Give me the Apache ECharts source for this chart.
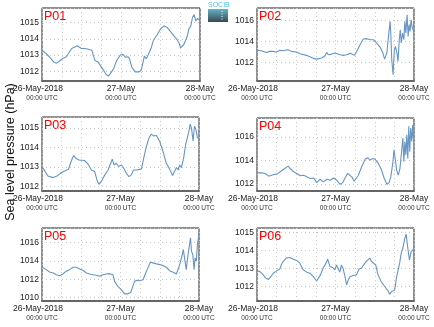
<!DOCTYPE html>
<html><head><meta charset="utf-8">
<script src="https://cdn.jsdelivr.net/npm/echarts@6/dist/echarts.min.js"></script>
<style>html,body{margin:0;padding:0;background:#fff}#c{width:434px;height:327px}</style>
</head><body><div id="c"></div>
<script>
// ---- data (hours since 26-May-2018 00:00 UTC, sea level pressure hPa) ----
const panelNames = ['P01','P02','P03','P04','P05','P06'];
const xTickHours = [0, 24, 48];
const xTickDates = ['26-May-2018', '27-May', '28-May'];
const xTickTimes = ['00:00 UTC', '00:00 UTC', '00:00 UTC'];
const yLabel = 'Sea level pressure (hPa)';

const p01 = [[0,1013.3],[1.3,1013.08],[2.3,1012.87],[3.7,1012.55],[4.4,1012.5],[5.4,1012.65],[6.4,1012.8],[7.4,1012.9],[8.0,1013.08],[9.0,1013.4],[10.0,1013.5],[10.7,1013.57],[12.0,1013.4],[13.0,1013.4],[14.1,1013.36],[15.1,1013.3],[16.1,1012.66],[17.1,1012.55],[18.1,1012.24],[19.5,1011.8],[20.2,1011.7],[20.7,1011.75],[21.7,1012.13],[22.7,1012.66],[23.8,1013.0],[24.6,1013.05],[25.3,1012.87],[26.1,1012.9],[26.6,1012.77],[27.3,1012.24],[28.3,1011.96],[29.4,1011.96],[30.1,1012.05],[30.7,1012.55],[31.1,1012.93],[31.7,1012.77],[32.2,1012.98],[33.1,1013.4],[33.9,1013.93],[35.0,1014.25],[36.0,1014.6],[37.0,1014.8],[38.0,1014.7],[39.0,1014.46],[40.1,1014.18],[41.1,1013.93],[41.6,1013.76],[42.1,1013.44],[42.6,1013.4],[43.1,1013.65],[43.6,1013.76],[44.1,1014.14],[44.6,1014.6],[45.2,1014.78],[45.7,1015.3],[46.2,1015.5],[46.7,1015.1],[47.2,1015.25],[48,1015.15]];
const p02 = [[0,1013.14],[1.3,1013.1],[2.9,1012.94],[3.4,1012.88],[3.9,1013.04],[4.9,1013.04],[5.9,1012.98],[7.0,1013.14],[8.0,1013.1],[8.5,1013.26],[9.5,1013.2],[10.5,1013.04],[12.1,1012.98],[13.1,1012.82],[15.1,1012.66],[17.2,1012.37],[18.2,1012.3],[19.8,1012.4],[20.8,1012.62],[21.3,1012.94],[21.8,1012.72],[22.8,1012.78],[23.8,1012.88],[24.4,1013.04],[25.4,1012.72],[26.4,1012.66],[27.4,1012.72],[28.5,1012.85],[29.0,1012.7],[29.8,1012.66],[30.5,1013.04],[31.5,1013.68],[32.5,1014.22],[33.6,1014.26],[34.6,1014.16],[35.6,1014.16],[36.6,1013.84],[37.7,1013.42],[38.5,1012.88],[39.0,1012.3],[39.4,1012.24],[39.7,1012.88],[40.2,1014.48],[40.7,1015.92],[40.9,1014.8],[41.2,1012.24],[41.6,1010.8],[42.0,1013.2],[42.3,1013.52],[42.8,1012.88],[43.1,1012.08],[43.5,1014.16],[43.8,1015.12],[44.1,1013.84],[44.5,1014.8],[44.9,1014.16],[45.2,1015.92],[45.5,1014.8],[45.9,1016.56],[46.2,1014.48],[46.5,1015.6],[46.8,1014.96],[47.1,1016.08],[47.4,1015.44],[47.7,1015.12],[48.0,1014.96]];
const p03 = [[0,1013.02],[0.8,1012.81],[1.8,1012.53],[3.4,1012.45],[4.6,1012.53],[5.6,1012.67],[6.6,1012.76],[7.2,1012.69],[8.1,1012.88],[8.7,1013.19],[9.3,1013.45],[9.7,1013.59],[10.3,1013.45],[11.3,1013.36],[13.0,1013.33],[14.1,1013.14],[15.1,1012.84],[16.1,1012.76],[16.8,1012.33],[17.4,1012.1],[18.1,1012.24],[19.2,1012.59],[20.2,1012.84],[21.0,1013.19],[21.5,1013.4],[22.0,1013.1],[22.7,1013.19],[23.4,1013.02],[24.3,1013.1],[25.0,1012.93],[25.8,1012.67],[26.6,1012.5],[27.3,1012.59],[28.0,1012.84],[29.1,1012.84],[30.4,1012.9],[31.1,1013.45],[31.9,1014.05],[32.7,1014.48],[33.4,1014.69],[34.1,1014.6],[35.0,1014.62],[36.0,1014.31],[37.0,1013.79],[38.0,1013.19],[39.0,1012.9],[39.9,1012.55],[40.5,1012.76],[41.1,1012.97],[41.6,1012.84],[42.1,1013.1],[42.6,1012.97],[43.3,1013.45],[43.9,1014.14],[44.4,1014.48],[44.9,1014.83],[45.3,1015.2],[45.7,1015.0],[46.2,1014.34],[46.6,1015.09],[47.0,1014.97],[47.5,1014.52],[48,1014.48]];
const p04 = [[0,1012.94],[1.5,1012.94],[2.5,1012.89],[3.6,1012.66],[4.1,1012.8],[5.1,1012.8],[6.1,1012.83],[7.1,1013.03],[8.1,1013.23],[9.5,1013.51],[10.2,1013.31],[11.2,1013.03],[12.2,1012.89],[13.2,1012.69],[14.2,1012.74],[15.3,1012.6],[16.3,1012.46],[17.3,1012.51],[18.3,1012.11],[19.3,1012.4],[20.3,1012.17],[21.4,1012.4],[22.4,1012.31],[23.4,1012.51],[24.4,1012.31],[25.4,1011.97],[26.2,1012.11],[26.9,1012.51],[27.7,1012.89],[28.3,1013.03],[29.0,1012.6],[29.7,1012.23],[30.3,1012.31],[31.0,1012.74],[32.0,1013.46],[33.1,1014.11],[33.8,1014.23],[34.6,1014.03],[35.4,1014.17],[36.1,1014.09],[37.1,1013.74],[38.1,1013.17],[38.9,1012.46],[39.7,1011.97],[40.4,1012.11],[40.9,1012.6],[41.5,1013.74],[41.9,1014.89],[42.3,1014.03],[42.7,1013.17],[43.2,1012.74],[43.7,1013.31],[44.3,1015.03],[44.6,1015.89],[44.9,1013.89],[45.2,1015.6],[45.5,1014.46],[45.8,1016.17],[46.1,1014.17],[46.4,1016.89],[46.7,1014.74],[47.0,1016.74],[47.3,1015.6],[47.6,1017.0],[47.8,1015.89],[48,1015.74]];
const p05 = [[0,1013.36],[1.3,1013.06],[2.3,1012.81],[3.4,1012.7],[4.4,1012.51],[5.4,1012.4],[6.4,1012.59],[7.4,1012.88],[8.4,1013.06],[9.5,1013.32],[10.5,1013.32],[11.5,1013.14],[12.5,1012.99],[13.6,1012.7],[14.6,1012.59],[15.6,1012.51],[16.6,1012.44],[17.6,1012.33],[18.6,1012.51],[19.7,1012.59],[20.7,1012.62],[21.7,1012.51],[22.2,1011.78],[23.2,1011.23],[24.0,1010.97],[24.6,1010.86],[25.3,1010.42],[26.3,1010.42],[27.1,1010.57],[27.6,1011.05],[28.3,1011.78],[29.0,1011.89],[29.8,1011.85],[30.9,1011.96],[31.7,1012.7],[32.4,1013.25],[33.1,1013.87],[33.9,1013.8],[35.0,1013.69],[36.0,1013.61],[37.0,1013.5],[38.0,1013.32],[39.0,1012.95],[40.1,1012.77],[40.6,1012.81],[41.1,1012.59],[41.6,1012.51],[42.1,1013.61],[42.6,1013.8],[42.9,1014.71],[43.2,1015.26],[43.5,1014.53],[43.8,1013.8],[44.1,1013.06],[44.4,1013.98],[44.8,1015.08],[45.4,1016.54],[45.7,1015.08],[46.1,1014.71],[46.5,1013.06],[46.8,1014.34],[47.2,1013.98],[47.5,1015.81],[47.8,1016.0],[48,1016.9]];
const p06 = [[0,1012.87],[0.9,1012.83],[1.9,1012.65],[2.7,1012.46],[3.5,1012.4],[4.2,1012.55],[5.0,1012.74],[6.0,1012.87],[7.0,1012.98],[7.5,1013.24],[8.0,1013.39],[8.9,1013.58],[10.1,1013.61],[11.1,1013.52],[12.1,1013.45],[13.1,1013.3],[14.1,1012.93],[15.2,1012.8],[16.2,1012.74],[17.2,1012.55],[18.2,1012.31],[18.7,1012.27],[19.4,1012.65],[20.2,1013.02],[21.1,1013.3],[21.6,1013.52],[22.3,1013.11],[23.1,1013.06],[23.8,1012.93],[24.3,1013.2],[24.8,1013.02],[25.3,1012.8],[25.8,1013.2],[26.3,1013.02],[26.9,1012.55],[27.4,1012.09],[27.9,1012.37],[28.4,1012.55],[29.4,1012.61],[30.4,1012.65],[31.2,1012.98],[31.9,1013.02],[33.0,1013.3],[33.7,1013.45],[34.5,1013.58],[35.0,1013.39],[35.5,1013.48],[36.3,1013.2],[37.0,1012.65],[38.0,1012.27],[39.1,1011.99],[40.1,1011.75],[40.6,1011.57],[41.1,1011.72],[41.6,1011.62],[42.1,1011.81],[42.6,1012.46],[43.1,1012.55],[43.6,1013.3],[44.1,1013.86],[44.6,1014.14],[45.1,1014.6],[45.6,1014.91],[46.1,1014.14],[46.6,1013.48],[47.1,1013.91],[47.6,1014.04],[48,1013.95]];
const seriesData = [p01, p02, p03, p04, p05, p06];
const yMins = [1011.4, 1010.2, 1011.76, 1011.4, 1009.64, 1011.2];
const yMaxs = [1015.9, 1017.2, 1015.57, 1017.6, 1017.6, 1015.25];

// ---- layout ----
const grids = [
  {left:42, top:8, width:158, height:73},
  {left:257, top:8, width:157, height:73},
  {left:42, top:117, width:157, height:74},
  {left:257, top:118, width:157, height:73},
  {left:42, top:228, width:157, height:73},
  {left:257, top:228, width:157, height:73}
];
const ySplit = [4, 4, 4, 3, 4, 4];
const FONT = 'Liberation Sans';
const splitStyle = {show:true, lineStyle:{color:'#c8c8c8', width:1, type:[1,3]}};

const option = {
  animation:false,
  backgroundColor:'#fff',
  grid: grids.map(g => Object.assign({show:true, borderColor:'#222', borderWidth:1, backgroundColor:'#fff', containLabel:false}, g)),
  xAxis: grids.map((g,i) => ({
    type:'value', gridIndex:i, min:0, max:48, interval:6,
    axisLine:{show:true, onZero:false, lineStyle:{color:'#666', width:2}},
    axisTick:{show:false},
    splitLine:splitStyle,
    axisLabel:{
      margin:3, showMinLabel:true, showMaxLabel:true, fontFamily:FONT,
      formatter: v => {
        const k = xTickHours.indexOf(v);
        if (k < 0) return '';
        return (k === 0 ? '{a0|' : '{a|') + xTickDates[k] + '}\n{b|' + xTickTimes[k] + '}';
      },
      rich:{
        a:{fontSize:8.5, color:'#222', fontFamily:FONT, lineHeight:10},
        a0:{fontSize:8.5, color:'#222', fontFamily:FONT, lineHeight:10, padding:[0,8,0,0]},
        b:{fontSize:6.5, color:'#333', fontFamily:FONT, lineHeight:9}
      }
    }
  })),
  yAxis: grids.map((g,i) => ({
    type:'value', gridIndex:i, min:yMins[i], max:yMaxs[i], splitNumber:ySplit[i],
    axisLine:{show:false}, axisTick:{show:false},
    splitLine:splitStyle,
    axisLabel:{margin:3, fontSize:8.5, color:'#222', fontFamily:FONT, showMinLabel:false, showMaxLabel:false,
      formatter: v => String(Math.round(v))}
  })),
  series: seriesData.map((d,i) => ({
    type:'line', xAxisIndex:i, yAxisIndex:i, data:d, showSymbol:false, symbol:'none',
    lineStyle:{color:'#6696c4', width:1.1}, z:3
  })),
  graphic: [
    ...grids.map((g,i) => ({
      type:'text', left:g.left+2, top:g.top+2, z:10,
      style:{text:panelNames[i], fill:'#ff0000', font:'12.5px "Liberation Sans"'}
    })),
    {type:'text', z:10, x:4, y:152, rotation:Math.PI/2, origin:[0,0],
      style:{text:yLabel, fill:'#111', font:'12.5px "Liberation Sans"', align:'center', verticalAlign:'top'}},
    // logo
    {type:'rect', z:10, shape:{x:208, y:9, width:20, height:13},
      style:{fill:new echarts.graphic.LinearGradient(0,0,0,1,[{offset:0,color:'#63b4c4'},{offset:1,color:'#3a4852'}])}},
    {type:'line', z:11, shape:{x1:222, y1:11, x2:222, y2:20}, style:{stroke:'#fff', lineWidth:1, lineDash:[1,1.5]}},
    {type:'text', z:10, x:208, y:2, style:{text:'SOCIB', fill:'#4ec3d6', font:'7px "Liberation Sans"'}}
  ]
};
const chart = echarts.init(document.getElementById('c'), null, {renderer:'canvas'});
chart.setOption(option);
</script>
</body></html>
